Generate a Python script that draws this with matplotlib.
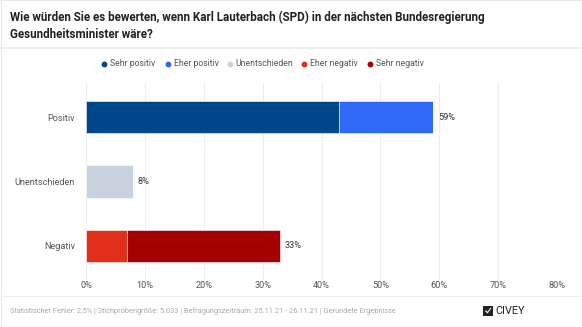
import matplotlib
matplotlib.use("Agg")
import matplotlib.pyplot as plt
from matplotlib.lines import Line2D
from matplotlib.patches import Rectangle, Polygon

plt.rcParams['font.family'] = ['Roboto', 'DejaVu Sans']

title_line1 = "Wie würden Sie es bewerten, wenn Karl Lauterbach (SPD) in der nächsten Bundesregierung"
title_line2 = "Gesundheitsminister wäre?"
categories = ["Positiv", "Unentschieden", "Negativ"]
series_names = ["Sehr positiv", "Eher positiv", "Unentschieden", "Eher negativ", "Sehr negativ"]
series_colors = ["#00468b", "#3069f5", "#c8d3de", "#e0301a", "#a50000"]
# values per series for each category (Positiv, Unentschieden, Negativ)
sehr_positiv = [43, 0, 0]
eher_positiv = [16, 0, 0]
unentschieden = [0, 8, 0]
eher_negativ = [0, 0, 7]
sehr_negativ = [0, 0, 26]
totals_labels = ["59%", "8%", "33%"]
xticks = [0, 10, 20, 30, 40, 50, 60, 70, 80]
footer = "Statistischer Fehler: 2,5% | Stichprobengröße: 5.033 | Befragungszeitraum: 25.11.21 - 26.11.21 | Gerundete Ergebnisse"

W, H = 582, 327
fig = plt.figure(figsize=(W / 100, H / 100), dpi=100)
fig.patch.set_facecolor("white")

def fx(px):
    return px / W

def fy(py):
    return 1 - py / H

ax = fig.add_axes([fx(86), fy(280), fx(557) - fx(86), fy(83) - fy(280)])

series = [sehr_positiv, eher_positiv, unentschieden, eher_negativ, sehr_negativ]
ypos = list(range(len(categories)))
left = [0] * len(categories)
for vals, col in zip(series, series_colors):
    ax.barh(ypos, vals, left=left, height=0.5, color=col, edgecolor="white", linewidth=0.4, zorder=3)
    left = [l + v for l, v in zip(left, vals)]

for y, tot, lab in zip(ypos, left, totals_labels):
    ax.text(tot + 0.8, y, lab, va="center", ha="left", fontsize=6.6, color="#333333")

ax.set_xlim(0, 80)
ax.set_ylim(2.53, -0.53)
ax.set_xticks(xticks)
ax.set_xticklabels([f"{t}%" for t in xticks])
ax.set_yticks(ypos)
ax.set_yticklabels(categories)
ax.tick_params(axis="both", length=0, labelsize=6.6, labelcolor="#555555")
ax.tick_params(axis="y", pad=8)
ax.tick_params(axis="x", pad=1)
ax.grid(axis="x", color="#eeeeee", linewidth=0.8, zorder=0)
for s in ax.spines.values():
    s.set_visible(False)

# Title
fig.text(fx(10), fy(17), title_line1, ha="left", va="center", fontsize=8.4, fontweight="bold", color="#222222")
fig.text(fx(10), fy(35), title_line2, ha="left", va="center", fontsize=8.4, fontweight="bold", color="#222222")

# separators and border
fig.add_artist(Line2D([0, 1], [fy(48), fy(48)], transform=fig.transFigure, color="#eeeeee", linewidth=1.2))
fig.add_artist(Line2D([fx(1), fx(581)], [fy(296), fy(296)], transform=fig.transFigure, color="#f0f0f0", linewidth=0.8))
fig.add_artist(Rectangle((fx(0.5), fy(326.5)), fx(581), fy(0.5) - fy(326.5), transform=fig.transFigure,
                         fill=False, edgecolor="#e8e8e8", linewidth=0.8))

# Legend
marker_x = [104, 168, 230, 304, 370]
for mx, name, col in zip(marker_x, series_names, series_colors):
    fig.add_artist(Line2D([fx(mx)], [fy(63.5)], transform=fig.transFigure, marker="o", markersize=3.2,
                          color=col, linestyle="none"))
    fig.text(fx(mx + 5.5), fy(63.5), name, ha="left", va="center", fontsize=6.2, color="#555555")

# Footer
fig.text(fx(10), fy(311), footer, ha="left", va="center", fontsize=5.3, color="#aaaaaa")
fig.add_artist(Rectangle((fx(483), fy(316)), fx(10), fy(306) - fy(316), transform=fig.transFigure,
                         facecolor="#222222", edgecolor="none"))
fig.add_artist(Polygon([(fx(485), fy(311)), (fx(487.5), fy(313.5)), (fx(491.5), fy(308)), (fx(490.5), fy(307.5)),
                        (fx(487.5), fy(311.8)), (fx(486), fy(310.2))], closed=True, transform=fig.transFigure,
                       facecolor="white", edgecolor="none"))
fig.text(fx(495), fy(311), "CIVEY", ha="left", va="center", fontsize=7.8, color="#222222")

fig.savefig("out.png", dpi=100, facecolor="white")
